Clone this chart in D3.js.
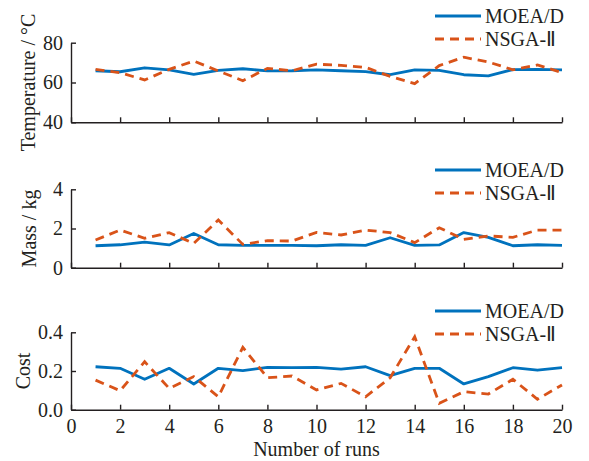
<!DOCTYPE html>
<html>
<head>
<meta charset="utf-8">
<script src="https://cdn.jsdelivr.net/npm/d3@7"></script>
<style>
body { margin: 0; background: #fff; }
text { font-family: "Liberation Serif", "Times New Roman", serif; fill: #231f20; }
</style>
</head>
<body>
<svg id="chart" width="589" height="461"></svg>
<script>
var runs = [1, 2, 3, 4, 5, 6, 7, 8, 9, 10, 11, 12, 13, 14, 15, 16, 17, 18, 19, 20],
xTicks = [0, 2, 4, 6, 8, 10, 12, 14, 16, 18, 20],
seriesNames = ["MOEA/D", "NSGA-\u2161"];

// temperature
var tempMoead = [65.9, 65.4, 67.4, 66.3, 64.1, 66.1, 66.9, 65.8, 65.9, 66.3, 65.9, 65.5, 63.9, 66.3, 66.1, 63.9, 63.3, 66.5, 66.6, 66.3],
tempNsga = [66.6, 64.9, 61.3, 66.6, 70.8, 65.8, 60.9, 67.1, 65.9, 69.2, 68.6, 67.6, 63.1, 59.4, 68.5, 72.7, 70.3, 66.4, 68.8, 65.0],
tempTicks = [40, 60, 80];

// mass
var massMoead = [1.12, 1.17, 1.31, 1.16, 1.75, 1.17, 1.14, 1.14, 1.14, 1.12, 1.17, 1.14, 1.53, 1.14, 1.16, 1.79, 1.55, 1.12, 1.17, 1.14],
massNsga = [1.41, 1.92, 1.50, 1.79, 1.24, 2.43, 1.19, 1.38, 1.36, 1.80, 1.67, 1.92, 1.79, 1.28, 2.04, 1.45, 1.62, 1.55, 1.92, 1.92],
massTicks = [0, 2, 4];

// cost
var costMoead = [0.222, 0.214, 0.157, 0.214, 0.133, 0.214, 0.202, 0.219, 0.217, 0.219, 0.210, 0.222, 0.176, 0.214, 0.214, 0.133, 0.171, 0.217, 0.204, 0.217],
costNsga = [0.153, 0.098, 0.248, 0.110, 0.171, 0.067, 0.322, 0.165, 0.174, 0.102, 0.136, 0.067, 0.165, 0.377, 0.033, 0.093, 0.081, 0.157, 0.054, 0.128],
costTicks = [0, 0.2, 0.4];

var blue = "#0072bd",
orange = "#d95319",
axisColor = "#231f20",
fontSize = 20;

var svg = d3.select("#chart");

var x = d3.scaleLinear()
.domain([0, 20])
.range([71, 562]);

var panels = [
  {label: "Temperature / \u00b0C", a: tempMoead, b: tempNsga, ticks: tempTicks, fmt: d3.format("d"), top: 42.7, bottom: 122.3, labelX: 28, legendY: 16, xLabels: false},
  {label: "Mass / kg", a: massMoead, b: massNsga, ticks: massTicks, fmt: d3.format("d"), top: 189.3, bottom: 267.7, labelX: 29, legendY: 170, xLabels: false},
  {label: "Cost", a: costMoead, b: costNsga, ticks: costTicks, fmt: d3.format(".1f"), top: 332.3, bottom: 409.7, labelX: 23, legendY: 311, xLabels: true}
];

panels.forEach(function (p) {
  var y = d3.scaleLinear()
  .domain([p.ticks[0], p.ticks[p.ticks.length - 1]])
  .range([p.bottom, p.top]);

  var g = svg.append("g");

  // axes
  var xAxis = d3.axisBottom(x)
  .tickValues(xTicks)
  .tickSizeInner(-5)
  .tickSizeOuter(0)
  .tickPadding(9)
  .tickFormat(p.xLabels ? d3.format("d") : "");

  var gx = g.append("g")
  .attr("transform", "translate(0," + p.bottom + ")")
  .call(xAxis);

  var yAxis = d3.axisLeft(y)
  .tickValues(p.ticks)
  .tickSizeInner(-5)
  .tickSizeOuter(0)
  .tickPadding(8)
  .tickFormat(p.fmt);

  var gy = g.append("g")
  .attr("transform", "translate(" + x(0) + ",0)")
  .call(yAxis);

  [gx, gy].forEach(function (ax) {
    ax.selectAll("path, line")
    .attr("stroke", axisColor)
    .attr("stroke-width", 1.4);
    ax.selectAll("text")
    .attr("font-size", fontSize + "px")
    .attr("font-family", "Liberation Serif, Times New Roman, serif")
    .attr("fill", axisColor);
  });

  g.append("text")
  .attr("transform", "translate(" + p.labelX + "," + (p.top + p.bottom) / 2 + ") rotate(-90)")
  .attr("text-anchor", "middle")
  .attr("dy", "0.35em")
  .attr("font-size", fontSize + "px")
  .text(p.label);

  // lines
  var line = d3.line()
  .x(function (d, i) { return x(runs[i]); })
  .y(function (d) { return y(d); });

  g.append("path")
  .datum(p.a)
  .attr("d", line)
  .attr("fill", "none")
  .attr("stroke", blue)
  .attr("stroke-width", 2.8)
  .attr("stroke-linejoin", "round");

  g.append("path")
  .datum(p.b)
  .attr("d", line)
  .attr("fill", "none")
  .attr("stroke", orange)
  .attr("stroke-width", 2.8)
  .attr("stroke-dasharray", "9,6");

  // legend
  var legend = g.selectAll("g.legend")
  .data(seriesNames)
  .enter().append("g")
  .attr("class", "legend")
  .attr("transform", function (d, i) { return "translate(435," + (p.legendY + i * 23) + ")"; });

  legend.append("line")
  .attr("x1", 0)
  .attr("x2", 46)
  .attr("stroke", function (d, i) { return i == 0 ? blue : orange; })
  .attr("stroke-width", 2.8)
  .attr("stroke-dasharray", function (d, i) { return i == 0 ? null : "9,6"; });

  legend.append("text")
  .attr("x", 50)
  .attr("dy", "0.35em")
  .attr("font-size", fontSize + "px")
  .text(function (d) { return d; });
});

svg.append("text")
.attr("x", (x(0) + x(20)) / 2)
.attr("y", 456)
.attr("text-anchor", "middle")
.attr("font-size", fontSize + "px")
.text("Number of runs");
</script>
</body>
</html>
